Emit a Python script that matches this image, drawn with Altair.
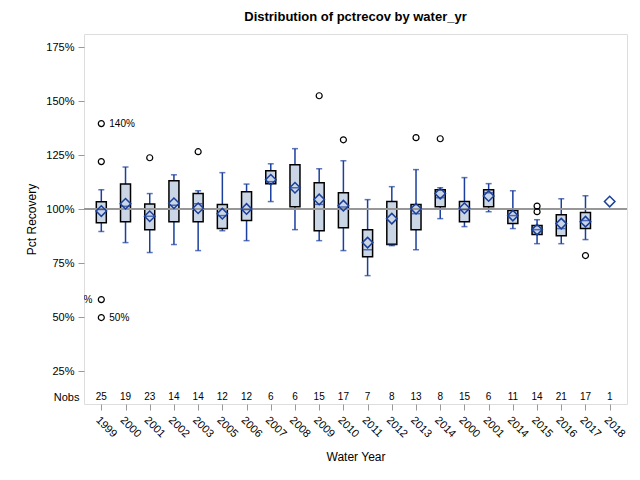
import altair as alt
import pandas as pd

labels = ["1999", "2000", "2001", "2002", "2003", "2005", "2006", "2007", "2008", "2009",
          "2010", "2011", "2012", "2013", "2014", "2000", "2001", "2014", "2015", "2016",
          "2017", "2018"]
nobs = [25, 19, 23, 14, 14, 12, 12, 6, 6, 15, 17, 7, 8, 13, 8, 15, 6, 11, 14, 21, 17, 1]
whisker_lo = [89.7, 84.6, 80.0, 83.7, 80.9, 90.1, 85.5, 103.6, 90.6, 85.5, 80.9, 69.3, 83.2,
              81.3, 95.7, 92.0, 98.9, 91.1, 84.1, 84.1, 86.0, None]
q1 = [93.8, 94.3, 90.6, 94.3, 94.3, 91.1, 94.8, 111.9, 101.2, 90.1, 91.5, 78.1, 83.7,
      90.6, 101.2, 94.3, 101.2, 93.4, 88.3, 87.8, 91.1, None]
median = [99.9, 101.4, 96.8, 101.9, 102.6, 97.1, 99.9, 112.8, 110.0, 102.3, 101.1, 81.3, 84.0,
          98.0, 105.4, 99.9, 107.7, 97.1, 90.6, 91.1, 94.8, None]
q3 = [103.5, 111.7, 102.5, 113.3, 107.3, 102.2, 108.2, 117.9, 120.7, 112.3, 107.7, 90.6, 103.6,
      102.2, 109.1, 103.6, 109.1, 99.5, 92.5, 97.5, 98.5, None]
whisker_hi = [109.1, 119.6, 107.3, 116.0, 108.6, 117.0, 111.7, 121.1, 128.1, 118.8, 122.5, 104.5,
              110.5, 118.4, 110.0, 114.7, 111.9, 108.6, 95.2, 104.9, 106.3, None]
mean = [99.2, 102.6, 96.8, 102.8, 100.5, 98.0, 100.2, 113.7, 110.0, 104.6, 101.7, 84.6, 95.7,
        100.3, 107.3, 100.5, 106.2, 97.1, 90.6, 93.4, 94.3, 103.6]

outlier_idx = [0, 0, 0, 0, 2, 4, 9, 10, 13, 14, 18, 18, 20]
outlier_val = [122.1, 139.7, 58.2, 49.9, 123.9, 126.7, 152.6, 132.2, 133.2, 132.7, 101.5, 98.9, 78.6]

label_idx = [0, 0, 0]
label_val = [139.7, 49.9, 58.2]
label_txt = ["140%", "50%", "58%"]
label_side = ["right", "right", "left"]

keys = [f"{i:02d}_{lab}" for i, lab in enumerate(labels)]

stats = pd.DataFrame({
    "key": keys, "nobs": nobs, "wlo": whisker_lo, "q1": q1, "med": median,
    "q3": q3, "whi": whisker_hi, "mean": mean,
})
out = pd.DataFrame({"key": [keys[i] for i in outlier_idx], "val": outlier_val})
lab = pd.DataFrame({"key": [keys[i] for i in label_idx], "val": label_val,
                    "txt": label_txt, "side": label_side})

BLUE = "#1A3F9C"
FILL = "#CAD5E5"
FONT = "Liberation Sans"
NOBS_Y = 13.1

x = alt.X("key:O", scale=alt.Scale(type="point", padding=0.715),
          axis=alt.Axis(title="Water Year", labelExpr="split(datum.value, '_')[1]",
                        labelAngle=45, labelFontSize=11, labelFont=FONT, labelColor="black",
                        tickSize=6, tickColor="#999", domain=False, labelPadding=4,
                        titleFont=FONT, titleFontSize=12, titleFontWeight="normal",
                        titleColor="black", titlePadding=12))
yscale = alt.Scale(domain=[9.86, 181.2], nice=False, zero=False)
yaxis = alt.Axis(title="Pct Recovery", values=[NOBS_Y, 25, 50, 75, 100, 125, 150, 175],
                 labelExpr="datum.value < 20 ? 'Nobs' : datum.value + '%'",
                 grid=False, domain=False, tickSize=6,
                 tickColor={"condition": {"test": "datum.value < 20", "value": "transparent"},
                            "value": "#999"},
                 labelPadding={"condition": {"test": "datum.value < 20", "value": -1},
                               "value": 4},
                 labelFontSize=11, labelFont=FONT, labelColor="black",
                 titleFont=FONT, titleFontSize=12, titleFontWeight="normal",
                 titleColor="black", titlePadding=7)

base = alt.Chart(stats)

whisk = base.mark_rule(color=BLUE, strokeWidth=1.5).encode(
    x=x, y=alt.Y("wlo:Q", scale=yscale, axis=yaxis), y2="whi:Q")
cap_hi = base.mark_tick(color=BLUE, size=6, thickness=1.5, orient="horizontal").encode(
    x=x, y=alt.Y("whi:Q", scale=yscale))
cap_lo = base.mark_tick(color=BLUE, size=6, thickness=1.5, orient="horizontal").encode(
    x=x, y=alt.Y("wlo:Q", scale=yscale))
box = base.mark_bar(size=10, fill=FILL, stroke="black", strokeWidth=1.5, opacity=1).encode(
    x=x, y=alt.Y("q1:Q", scale=yscale), y2="q3:Q")
ref = base.mark_rule(color="#999", strokeWidth=1).encode(y=alt.datum(100, scale=yscale))
med = base.mark_tick(color=BLUE, size=9, thickness=1.5, orient="horizontal").encode(
    x=x, y=alt.Y("med:Q", scale=yscale))
mn = base.mark_point(shape="diamond", filled=False, color=BLUE, size=110, strokeWidth=1.5,
                     opacity=1).encode(x=x, y=alt.Y("mean:Q", scale=yscale))
outl = alt.Chart(out).mark_point(shape="circle", filled=False, color="black", size=36,
                                 strokeWidth=1.2, opacity=1).encode(
    x=x, y=alt.Y("val:Q", scale=yscale))
lab_r = alt.Chart(lab).transform_filter("datum.side == 'right'").mark_text(
    align="left", baseline="middle", dx=8, fontSize=10, font=FONT, color="black").encode(
    x=x, y=alt.Y("val:Q", scale=yscale), text="txt:N")
lab_l = alt.Chart(lab).transform_filter("datum.side == 'left'").mark_text(
    align="right", baseline="middle", dx=-9, fontSize=10, font=FONT, color="black",
    clip=True).encode(x=x, y=alt.Y("val:Q", scale=yscale), text="txt:N")
nob = base.mark_text(fontSize=10, font=FONT, color="black", baseline="middle").encode(
    x=x, y=alt.datum(NOBS_Y, scale=yscale), text="nobs:Q")

chart = alt.layer(whisk, cap_hi, cap_lo, box, ref, med, mn, outl, lab_r, lab_l, nob).properties(
    width=543, height=370,
    title=alt.TitleParams("Distribution of pctrecov by water_yr", font=FONT, fontSize=13,
                          fontWeight="bold", color="black", anchor="middle", offset=10),
    autosize=alt.AutoSizeParams(type="none"),
    padding={"left": 76, "top": 26, "right": 5, "bottom": 68},
).configure_view(stroke="#999", strokeWidth=1).configure(background="white")

chart.save("out.html", embed_options={"renderer": "svg", "actions": False})
